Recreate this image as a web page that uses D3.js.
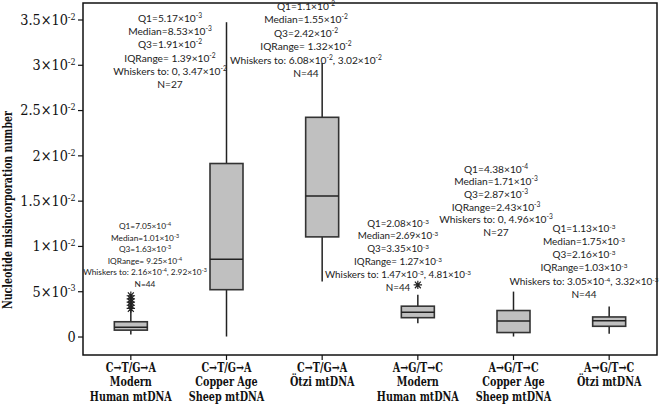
<!DOCTYPE html>
<html>
<head>
<meta charset="utf-8">
<script src="https://cdn.jsdelivr.net/npm/d3@7"></script>
<style>
  body { margin: 0; background: #fff; }
  svg { display: block; }
</style>
</head>
<body>
<div class="parent"></div>
<script>
// categories (label lines for each)
const categories = ["ctModern", "ctSheep", "ctOtzi", "agModern", "agSheep", "agOtzi"];
const categoryLabels = [
  ["C→T/G→A", "Modern", "Human mtDNA"],
  ["C→T/G→A", "Copper Age", "Sheep mtDNA"],
  ["C→T/G→A", "Ötzi mtDNA"],
  ["A→G/T→C", "Modern", "Human mtDNA"],
  ["A→G/T→C", "Copper Age", "Sheep mtDNA"],
  ["A→G/T→C", "Ötzi mtDNA"]
];

// box statistics
const q1 = [7.05e-4, 5.17e-3, 1.1e-2, 2.08e-3, 4.38e-4, 1.13e-3];
const median = [1.01e-3, 8.53e-3, 1.55e-2, 2.69e-3, 1.71e-3, 1.75e-3];
const q3 = [1.63e-3, 1.91e-2, 2.42e-2, 3.35e-3, 2.87e-3, 2.16e-3];
const whiskerLow = [2.16e-4, 0, 6.08e-3, 1.47e-3, 0, 3.05e-4];
const whiskerHigh = [2.92e-3, 3.47e-2, 3.02e-2, 4.6e-3, 4.96e-3, 3.32e-3];
const outliers = [
  [3.1e-3, 3.45e-3, 3.8e-3, 4.15e-3, 4.5e-3],
  [], [], [5.7e-3], [], []
];

// annotation texts (^ marks a superscript exponent)
const annotations = [
  ["Q1=7.05×10^-4", "Median=1.01×10^-3", "Q3=1.63×10^-3", "IQRange= 9.25×10^-4", "Whiskers to: 2.16×10^-4, 2.92×10^-3", "N=44"],
  ["Q1=5.17×10^-3", "Median=8.53×10^-3", "Q3=1.91×10^-2", "IQRange= 1.39×10^-2", "Whiskers to: 0, 3.47×10^-2", "N=27"],
  ["Q1=1.1×10^-2", "Median=1.55×10^-2", "Q3=2.42×10^-2", "IQRange= 1.32×10^-2", "Whiskers to: 6.08×10^-2, 3.02×10^-2", "N=44"],
  ["Q1=2.08×10^-3", "Median=2.69×10^-3", "Q3=3.35×10^-3", "IQRange= 1.27×10^-3", "Whiskers to: 1.47×10^-3, 4.81×10^-3", "N=44"],
  ["Q1=4.38×10^-4", "Median=1.71×10^-3", "Q3=2.87×10^-3", "IQRange=2.43×10^-3", "Whiskers to: 0, 4.96×10^-3", "N=27"],
  ["Q1=1.13×10^-3", "Median=1.75×10^-3", "Q3=2.16×10^-3", "IQRange=1.03×10^-3", "Whiskers to: 3.05×10^-4, 3.32×10^-3", "N=44"]
];

const yTicks = [0, 5e-3, 1e-2, 1.5e-2, 2e-2, 2.5e-2, 3e-2, 3.5e-2];
const yTickLabels = ["0", "5×10^-3", "1×10^-2", "1.5×10^-2", "2×10^-2", "2.5×10^-2", "3×10^-2", "3.5×10^-2"];
const yTitle = "Nucleotide misincorporation number";

// annotation layout: centre x, first baseline y, font size, line step
const annoLayout = [
  { cx: 145, y: 229, fs: 8.3, step: 11.6 },
  { cx: 170, y: 22, fs: 10.2, step: 13.2 },
  { cx: 306, y: 10, fs: 10.2, step: 13.4 },
  { cx: 398, y: 226.5, fs: 9.8, step: 12.9 },
  { cx: 496, y: 172.5, fs: 10.2, step: 12.7 },
  { cx: 584, y: 231.5, fs: 10, step: 13.3 }
];

const serifFont = "'DejaVu Serif', serif";

const width = 662, height = 406;
const frame = { left: 83, right: 657, top: 3, bottom: 355 };

const svg = d3.select(".parent").append("svg")
  .attr("width", width).attr("height", height);

const x = d3.scaleBand().domain(categories)
  .range([frame.left, frame.right]).padding(0);

const y = d3.scaleLinear().domain([-0.00204, 0.03682])
  .range([frame.bottom, frame.top]);

const boxW = 33;
const cx = i => x(categories[i]) + x.bandwidth() / 2;

// write text with ^exponent parts as superscripts
function richText(sel, str, supScale) {
  const parts = str.split(/\^(-?\d+)/);
  parts.forEach((p, k) => {
    if (p === "") return;
    if (k % 2 === 1) {
      sel.append("tspan").attr("baseline-shift", "super")
        .style("font-size", supScale).text(p);
    } else {
      sel.append("tspan").text(p);
    }
  });
}

// frame
svg.append("rect")
  .attr("x", frame.left).attr("y", frame.top)
  .attr("width", frame.right - frame.left).attr("height", frame.bottom - frame.top)
  .attr("fill", "none").attr("stroke", "#111").attr("stroke-width", 1.5);

// y axis
const yAxis = svg.append("g")
  .attr("transform", `translate(${frame.left},0)`)
  .call(d3.axisLeft(y).tickValues(yTicks).tickSize(5).tickFormat(""));
yAxis.attr("font-family", serifFont);
yAxis.select(".domain").remove();
yAxis.selectAll("line").attr("stroke", "#111").attr("stroke-width", 1.2);
yAxis.selectAll(".tick").append("text")
  .attr("x", -8).attr("dy", "0.35em")
  .attr("text-anchor", "end").attr("fill", "#111")
  .attr("font-family", serifFont)
  .attr("font-size", 14)
  .attr("transform", "scale(0.92,1)")
  .each(function (d, i) { richText(d3.select(this), yTickLabels[i], "62%"); });

svg.append("text")
  .attr("transform", `translate(12,${210}) rotate(-90) scale(0.76,1)`)
  .attr("text-anchor", "middle").attr("fill", "#111")
  .attr("font-family", serifFont)
  .attr("font-size", 12.5).attr("font-weight", "bold")
  .text(yTitle);

// x axis
const xAxis = svg.append("g")
  .attr("transform", `translate(0,${frame.bottom})`)
  .call(d3.axisBottom(x).tickSize(5).tickFormat(""));
xAxis.attr("font-family", serifFont);
xAxis.select(".domain").remove();
xAxis.selectAll("line").attr("stroke", "#111").attr("stroke-width", 1.2);
xAxis.selectAll(".tick").append("text")
  .attr("y", 17).attr("text-anchor", "middle").attr("fill", "#111")
  .attr("font-family", serifFont)
  .attr("font-size", 12.5).attr("font-weight", "bold")
  .attr("transform", "scale(0.77,1)")
  .each(function (d, i) {
    const t = d3.select(this);
    categoryLabels[i].forEach((line, k) => {
      t.append("tspan").attr("x", 0).attr("y", 17 + k * 14.4).text(line);
    });
  });

// boxes
const g = svg.append("g");
const boxes = g.selectAll(".box").data(categories).join("g").attr("class", "box");

boxes.append("line")
  .attr("x1", (d, i) => cx(i)).attr("x2", (d, i) => cx(i))
  .attr("y1", (d, i) => y(whiskerLow[i])).attr("y2", (d, i) => y(q1[i]))
  .attr("stroke", "#222").attr("stroke-width", 1.5);
boxes.append("line")
  .attr("x1", (d, i) => cx(i)).attr("x2", (d, i) => cx(i))
  .attr("y1", (d, i) => y(q3[i])).attr("y2", (d, i) => y(whiskerHigh[i]))
  .attr("stroke", "#222").attr("stroke-width", 1.5);
boxes.append("rect")
  .attr("x", (d, i) => cx(i) - boxW / 2).attr("width", boxW)
  .attr("y", (d, i) => y(q3[i])).attr("height", (d, i) => y(q1[i]) - y(q3[i]))
  .attr("fill", "#c0c0c0").attr("stroke", "#333").attr("stroke-width", 1.6);
boxes.append("line")
  .attr("x1", (d, i) => cx(i) - boxW / 2).attr("x2", (d, i) => cx(i) + boxW / 2)
  .attr("y1", (d, i) => y(median[i])).attr("y2", (d, i) => y(median[i]))
  .attr("stroke", "#222").attr("stroke-width", 1.5);

// outliers: asterisk made of a horizontal bar and two diagonals
const r = 4.2;
const starPath = `M${-r},0L${r},0M${-r * 0.7},${-r * 0.8}L${r * 0.7},${r * 0.8}M${r * 0.7},${-r * 0.8}L${-r * 0.7},${r * 0.8}M0,${-r}L0,${r}`;
categories.forEach((c, i) => {
  g.selectAll(null).data(outliers[i]).join("path")
    .attr("d", starPath)
    .attr("transform", v => `translate(${cx(i)},${y(v)})`)
    .attr("fill", "none").attr("stroke", "#222").attr("stroke-width", 1.2);
});

// annotations
annotations.forEach((lines, i) => {
  const L = annoLayout[i];
  const t = svg.append("text")
    .attr("text-anchor", "middle").attr("fill", "#222")
    .style("font-family", "Lato, 'Open Sans', sans-serif")
    .style("font-size", L.fs + "px");
  lines.forEach((line, k) => {
    const ts = t.append("tspan").attr("x", L.cx).attr("y", L.y + k * L.step);
    richText(ts, line, "65%");
  });
});
</script>
</body>
</html>
